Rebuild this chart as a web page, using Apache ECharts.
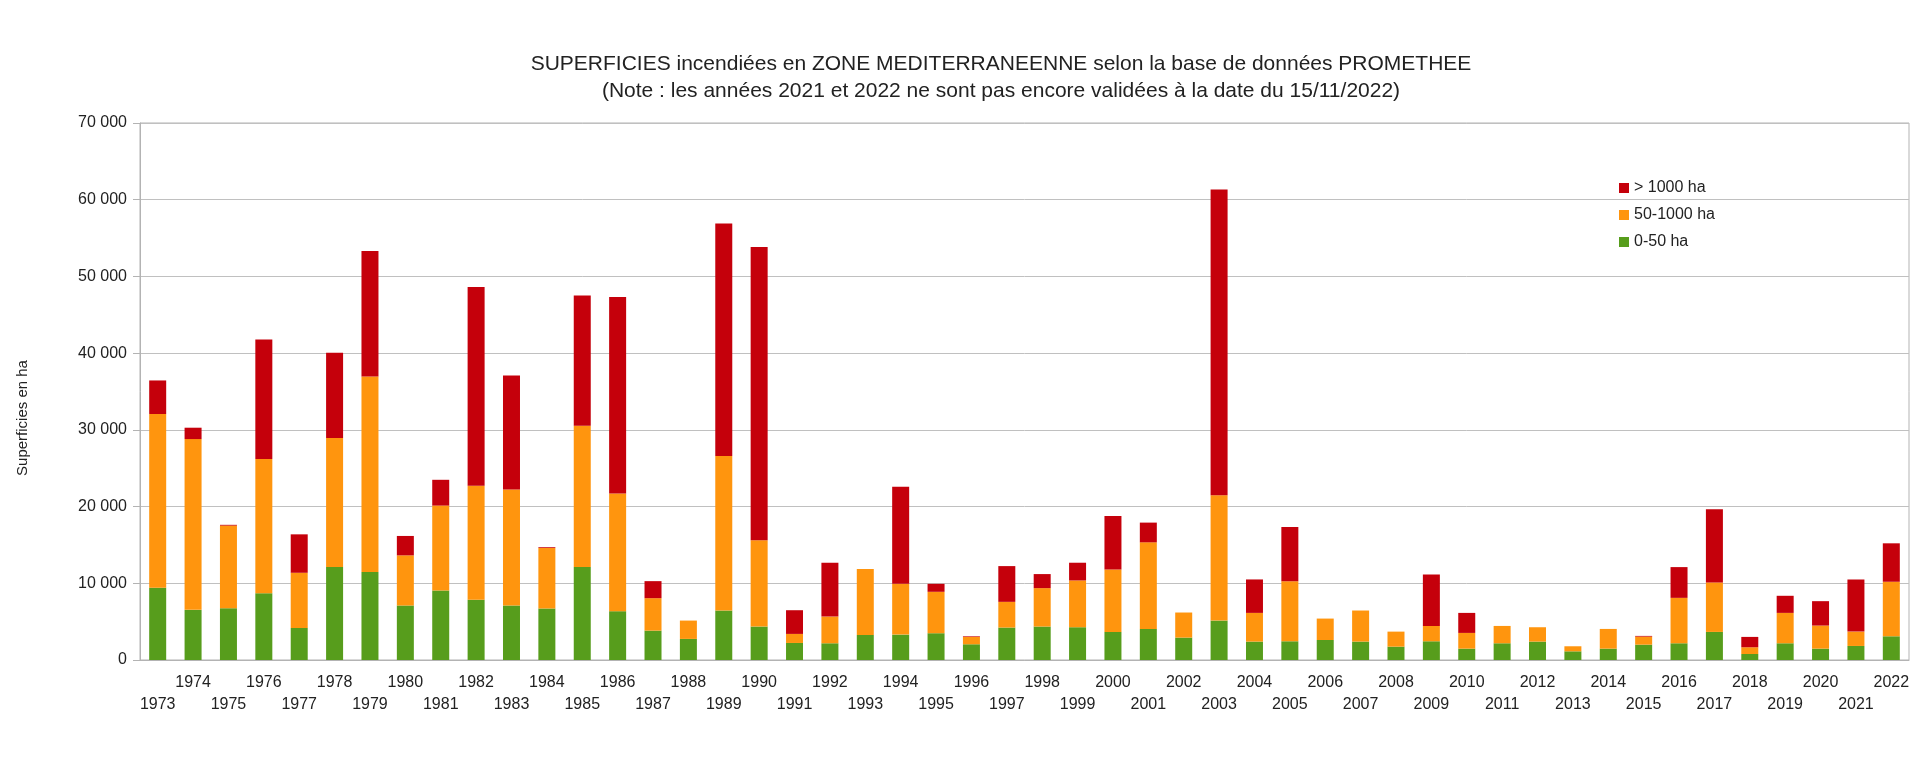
<!DOCTYPE html>
<html>
<head>
<meta charset="utf-8">
<title>Superficies incendiées - PROMETHEE</title>
<script src="https://cdn.jsdelivr.net/npm/echarts@6/dist/echarts.min.js"></script>
<style>
    html, body { margin: 0; padding: 0; background: #fff; }
    #chart { width: 1920px; height: 777px; }
</style>
</head>
<body>
<div id="chart"></div>
<script>
// années
var years = ['1973', '1974', '1975', '1976', '1977', '1978', '1979', '1980', '1981', '1982',
             '1983', '1984', '1985', '1986', '1987', '1988', '1989', '1990', '1991', '1992',
             '1993', '1994', '1995', '1996', '1997', '1998', '1999', '2000', '2001', '2002',
             '2003', '2004', '2005', '2006', '2007', '2008', '2009', '2010', '2011', '2012',
             '2013', '2014', '2015', '2016', '2017', '2018', '2019', '2020', '2021', '2022'];

// 0-50 ha
var small = [9410, 6540, 6750, 8710, 4180, 12110, 11460, 7100, 9060, 7840,
             7100, 6710, 12110, 6360, 3830, 2750, 6450, 4360, 2220, 2180,
             3270, 3310, 3490, 2050, 4230, 4360, 4270, 3660, 4050, 2920,
             5140, 2400, 2440, 2610, 2400, 1740, 2440, 1480, 2180, 2400,
             1130, 1480, 2000, 2180, 3660, 780, 2180, 1480, 1830, 3090];

// 50-1000 ha
var medium = [22660, 22260, 10770, 17480, 7190, 16820, 25500, 6540, 11070, 14860,
              15120, 7890, 18430, 15340, 4230, 2390, 20130, 11240, 1180, 3480,
              8580, 6620, 5400, 960, 3350, 5010, 6100, 8150, 11290, 3270,
              16340, 3740, 7840, 2790, 4050, 1960, 2000, 2050, 2260, 1870,
              660, 2570, 1050, 5920, 6450, 880, 3960, 3010, 1870, 7110];

// > 1000 ha
var large = [4370, 1480, 100, 15600, 5010, 11120, 16360, 2530, 3360, 25930,
             14870, 100, 16960, 25620, 2220, 0, 30320, 38250, 3090, 7020,
             0, 12640, 1040, 80, 4660, 1830, 2310, 6970, 2570, 0,
             39860, 4360, 7060, 0, 0, 0, 6710, 2610, 0, 0,
             0, 0, 90, 4010, 9540, 1350, 2230, 3180, 6800, 5010];

var font = "'Liberation Sans', Arial, sans-serif";

var myChart = echarts.init(document.getElementById('chart'));

function thousands(v) {
    return String(v).replace(/\B(?=(\d{3})+(?!\d))/g, ' ');
}

var option = {
    animation: false,
    backgroundColor: '#ffffff',
    color: ['#579d1c', '#ff950e', '#c5000b'],
    title: {
        text: 'SUPERFICIES incendiées en ZONE MEDITERRANEENNE selon la base de données PROMETHEE\n' +
              '(Note : les années 2021 et 2022 ne sont pas encore validées à la date du 15/11/2022)',
        left: 1001,
        top: 51,
        padding: 0,
        textAlign: 'center',
        textStyle: {
            fontFamily: font,
            fontSize: 21,
            fontWeight: 'normal',
            color: '#222',
            lineHeight: 27
        }
    },
    legend: {
        data: ['> 1000 ha', '50-1000 ha', '0-50 ha'],
        orient: 'vertical',
        left: 1619,
        top: 180,
        padding: 0,
        itemWidth: 10,
        itemHeight: 10,
        itemGap: 11,
        icon: 'rect',
        textStyle: {
            fontFamily: font,
            fontSize: 16,
            color: '#222'
        }
    },
    grid: {
        left: 140,
        right: 11,
        top: 123,
        bottom: 117,
        show: true,
        borderColor: '#b3b3b3',
        borderWidth: 1
    },
    xAxis: {
        type: 'category',
        data: years,
        axisLine: { lineStyle: { color: '#b3b3b3' } },
        axisTick: { length: 8, lineStyle: { color: '#b3b3b3' } },
        axisLabel: {
            interval: 0,
            margin: 12,
            fontFamily: font,
            fontSize: 16,
            lineHeight: 22,
            color: '#222',
            formatter: function (value, index) {
                // années paires en haut, impaires en bas
                return index % 2 === 0 ? '\n' + value : value;
            }
        }
    },
    yAxis: {
        type: 'value',
        min: 0,
        max: 70000,
        interval: 10000,
        axisLine: { show: true, lineStyle: { color: '#b3b3b3' } },
        axisTick: { show: true, length: 7, lineStyle: { color: '#b3b3b3' } },
        splitLine: { lineStyle: { color: '#c0c0c0' } },
        axisLabel: {
            margin: 13,
            fontFamily: font,
            fontSize: 16,
            color: '#222',
            formatter: thousands
        }
    },
    graphic: [
        {
            type: 'text',
            x: 23,
            y: 418,
            rotation: Math.PI / 2,
            style: {
                text: 'Superficies en ha',
                align: 'center',
                verticalAlign: 'middle',
                font: '15px ' + font,
                fill: '#222'
            }
        }
    ],
    series: [
        {
            name: '0-50 ha',
            type: 'bar',
            stack: 'total',
            barWidth: 17,
            data: small
        },
        {
            name: '50-1000 ha',
            type: 'bar',
            stack: 'total',
            barWidth: 17,
            data: medium
        },
        {
            name: '> 1000 ha',
            type: 'bar',
            stack: 'total',
            barWidth: 17,
            data: large
        }
    ]
};

myChart.setOption(option);
</script>
</body>
</html>
